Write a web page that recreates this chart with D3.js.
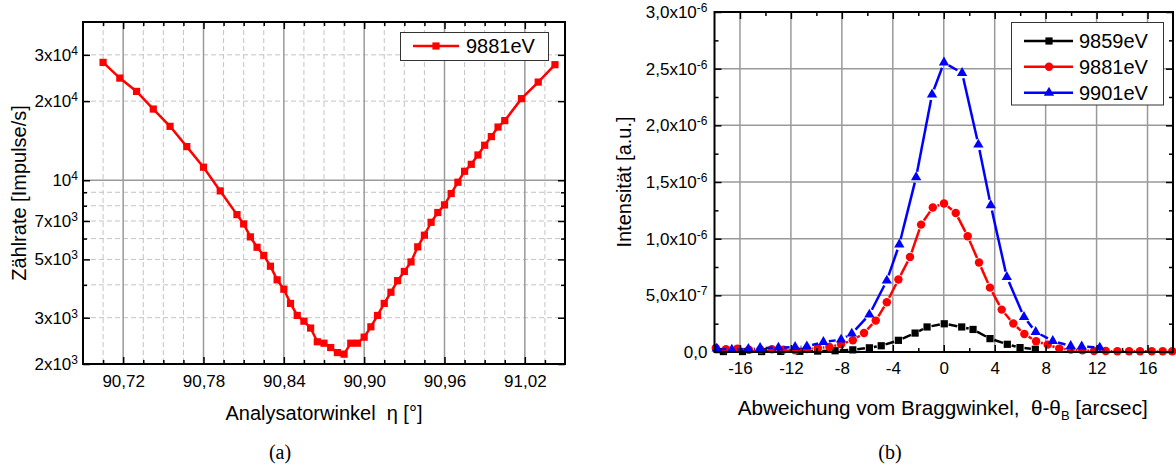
<!DOCTYPE html>
<html>
<head>
<meta charset="utf-8">
<script src="https://cdn.jsdelivr.net/npm/d3@7"></script>
<style>
  html, body { margin: 0; padding: 0; background: #fff; }
  svg { display: block; }
  text { font-family: "Liberation Sans", Arial, Helvetica, sans-serif; fill: #000; }
</style>
</head>
<body>
<svg id="fig" width="1176" height="472"></svg>
<script>
// ---------- panel (a): count rate vs. analyser angle at 9881 eV ----------
const angleA = [90.705, 90.7175, 90.730, 90.7425, 90.755, 90.7675, 90.780, 90.7925,
  90.805, 90.810, 90.815, 90.820, 90.825, 90.830, 90.835, 90.840, 90.845, 90.850,
  90.855, 90.860, 90.865, 90.870, 90.875, 90.880, 90.885, 90.890, 90.895, 90.900,
  90.905, 90.910, 90.915, 90.920, 90.925, 90.930, 90.935, 90.940, 90.945, 90.950,
  90.955, 90.960, 90.965, 90.970, 90.975, 90.980, 90.985, 90.990, 90.995, 91.000,
  91.005, 91.0175, 91.030, 91.0425];
const rateA = [28080, 24470, 21780, 18660, 16040, 13430, 11210, 9110,
  7400, 6820, 6090, 5560, 5180, 4710, 4180, 3850, 3400, 3060,
  2910, 2740, 2430, 2400, 2310, 2210, 2180, 2400, 2400, 2530,
  2770, 3060, 3400, 3750, 4150, 4500, 4890, 5580, 6180, 6920,
  7540, 8060, 8900, 9830, 10820, 11500, 12480, 13590, 14660, 15940,
  16860, 20440, 23630, 27520];
const xTicksA = [90.72, 90.78, 90.84, 90.90, 90.96, 91.02];
const xTickLabelsA = ["90,72", "90,78", "90,84", "90,90", "90,96", "91,02"];
const yTicksA = [2000, 3000, 5000, 7000, 10000, 20000, 30000];
const yTickMantA = ["2x10", "3x10", "5x10", "7x10", "10", "2x10", "3x10"];
const yTickExpA = ["3", "3", "3", "3", "4", "4", "4"];
const yMinorTicksA = [4000, 6000, 8000, 9000];
const yDashedGridA = [3000, 4000, 5000, 6000, 7000, 8000, 9000, 20000, 30000];
const seriesNameA = "9881eV";

// ---------- panel (b): rocking curves vs. deviation from Bragg angle ----------
const dev9859 = [-17.3, -15.8, -14.3, -12.8, -11.3, -9.9, -8.53, -7.14, -5.84, -4.91,
  -3.56, -2.25, -1.31, 0.04, 1.41, 2.30, 3.63, 4.99, 5.99, 7.19];
const int9859 = [4e-9, 4e-9, 4e-9, 5e-9, 6e-9, 8e-9, 1.1e-8, 1.9e-8, 3.7e-8, 5.5e-8,
  1.03e-7, 1.67e-7, 2.21e-7, 2.49e-7, 2.21e-7, 1.99e-7, 1.18e-7, 6.8e-8, 3.9e-8, 2.4e-8];

const dev9881 = [-17.9, -17.1, -16.2, -15.3, -14.4, -13.5, -12.59, -11.67, -10.75, -9.89,
  -8.98, -8.06, -7.14, -6.26, -5.34, -4.47, -3.56, -2.65, -1.78, -0.86,
  0.02, 0.94, 1.88, 2.77, 3.63, 4.55, 5.46, 6.33, 7.25, 8.16,
  9.07, 9.97, 10.88, 11.80, 12.72, 13.63, 14.55, 15.41, 16.33, 17.19, 17.94];
const int9881 = [3.5e-8, 2.5e-8, 3.0e-8, 2.0e-8, 2.0e-8, 2.5e-8, 2.1e-8, 1.5e-8, 2.6e-8, 3.5e-8,
  4.4e-8, 6.8e-8, 1.03e-7, 1.68e-7, 2.77e-7, 4.39e-7, 6.39e-7, 8.38e-7, 1.124e-6, 1.275e-6,
  1.311e-6, 1.227e-6, 1.021e-6, 7.89e-7, 5.68e-7, 3.74e-7, 2.51e-7, 1.59e-7, 9.4e-8, 6.5e-8,
  3.0e-8, 2.1e-8, 1.5e-8, 9e-9, 9e-9, 6e-9, 6e-9, 6e-9, 6e-9, 6e-9, 6e-9];

const dev9901 = [-17.82, -16.64, -15.34, -14.42, -12.98, -11.67, -10.75, -9.45, -8.06, -7.22,
  -5.84, -4.47, -3.49, -2.17, -0.92, 0.02, 1.44, 2.72, 3.69, 4.95,
  6.30, 7.22, 8.56, 9.97, 10.83, 12.25];
const int9901 = [3.0e-8, 2.1e-8, 2.6e-8, 3.5e-8, 3.9e-8, 4.4e-8, 5.0e-8, 8.8e-8, 1.09e-7, 1.62e-7,
  3.30e-7, 6.30e-7, 9.48e-7, 1.542e-6, 2.272e-6, 2.554e-6, 2.462e-6, 1.830e-6, 1.295e-6, 6.62e-7,
  3.09e-7, 1.77e-7, 9.7e-8, 5.3e-8, 4.8e-8, 3.9e-8];

const seriesNamesB = ["9859eV", "9881eV", "9901eV"];
const xTicksB = [-16, -12, -8, -4, 0, 4, 8, 12, 16];
const xTickLabelsB = ["-16", "-12", "-8", "-4", "0", "4", "8", "12", "16"];
const yTicksB = [0, 5e-7, 1e-6, 1.5e-6, 2e-6, 2.5e-6, 3e-6];
const yTickMantB = ["0,0", "5,0x10", "1,0x10", "1,5x10", "2,0x10", "2,5x10", "3,0x10"];
const yTickExpB = ["", "-7", "-6", "-6", "-6", "-6", "-6"];

// ---------- shared helpers ----------
const svg = d3.select("#fig");
const TICK_MAJOR = 7, TICK_MINOR = 4;

function styleAxis(sel, fontSize) {
  sel.select(".domain").remove();
  sel.selectAll(".tick line").attr("stroke", "#000").attr("stroke-width", 1.5);
  sel.selectAll(".tick text")
    .attr("font-size", fontSize)
    .attr("font-family", '"Liberation Sans", Arial, sans-serif')
    .attr("fill", "#000");
}

// draws all four sides of ticks, inward facing
function drawTicks(g, box, x, y, xMaj, xMin, yMaj, yMin, xFmt, yPad, xPad) {
  const makers = [
    () => d3.axisBottom(x), () => d3.axisTop(x), () => d3.axisLeft(y), () => d3.axisRight(y)
  ];
  const transforms = [
    `translate(0,${box.bottom})`, `translate(0,${box.top})`,
    `translate(${box.left},0)`, `translate(${box.right},0)`
  ];
  const out = {};
  makers.forEach((make, k) => {
    const horizontal = k < 2;
    const labelled = k === 0 || k === 2;
    const gMin = g.append("g").attr("transform", transforms[k])
      .call(make().tickValues(horizontal ? xMin : yMin).tickFormat("")
        .tickSizeInner(-TICK_MINOR).tickSizeOuter(0));
    styleAxis(gMin, 17);
    const gMaj = g.append("g").attr("transform", transforms[k])
      .call(make().tickValues(horizontal ? xMaj : yMaj)
        .tickSizeInner(-TICK_MAJOR).tickSizeOuter(0)
        .tickPadding(horizontal ? xPad : yPad)
        .tickFormat(labelled ? (horizontal ? xFmt : () => "") : ""));
    styleAxis(gMaj, 17);
    if (k === 0) out.bottom = gMaj;
    if (k === 2) out.left = gMaj;
  });
  return out;
}

function powerLabels(axisG, mant, exp) {
  axisG.selectAll(".tick text").each(function (d, i) {
    const t = d3.select(this);
    t.text(null);
    t.append("tspan").text(mant[i]);
    if (exp[i]) t.append("tspan").attr("dy", -6).attr("font-size", 12).text(exp[i]);
  });
}

// ================= panel (a) =================
const A = { left: 83, right: 565, top: 22, bottom: 364 };
const xA = d3.scaleLinear().domain([90.69, 91.05]).range([A.left, A.right]);
const yA = d3.scaleLog().domain([2000, 40000]).range([A.bottom, A.top]);
const xMinorA = d3.range(1, 24).filter(i => i % 4 !== 2).map(i => 90.69 + i * 0.015);

const gA = svg.append("g");
// grid: dashed minor lines, solid major lines
gA.append("g").selectAll("line").data(xMinorA).join("line")
  .attr("x1", d => xA(d)).attr("x2", d => xA(d)).attr("y1", A.top).attr("y2", A.bottom)
  .attr("stroke", "#c4c4c4").attr("stroke-width", 1).attr("stroke-dasharray", "5,3");
gA.append("g").selectAll("line").data(yDashedGridA).join("line")
  .attr("x1", A.left).attr("x2", A.right).attr("y1", d => yA(d)).attr("y2", d => yA(d))
  .attr("stroke", "#c4c4c4").attr("stroke-width", 1).attr("stroke-dasharray", "5,3");
gA.append("g").selectAll("line").data(xTicksA).join("line")
  .attr("x1", d => xA(d)).attr("x2", d => xA(d)).attr("y1", A.top).attr("y2", A.bottom)
  .attr("stroke", "#9a9a9a").attr("stroke-width", 1.5);
gA.append("line")
  .attr("x1", A.left).attr("x2", A.right).attr("y1", yA(10000)).attr("y2", yA(10000))
  .attr("stroke", "#9a9a9a").attr("stroke-width", 1.5);

// series
const ptsA = angleA.map((a, i) => [a, rateA[i]]);
gA.append("path").datum(ptsA)
  .attr("d", d3.line().x(d => xA(d[0])).y(d => yA(d[1])))
  .attr("fill", "none").attr("stroke", "#ff0000").attr("stroke-width", 2.5);
gA.append("g").selectAll("path").data(ptsA).join("path")
  .attr("transform", d => `translate(${xA(d[0])},${yA(d[1])})`)
  .attr("d", d3.symbol(d3.symbolSquare, 52))
  .attr("fill", "#ff0000");

// frame and ticks
gA.append("rect").attr("x", A.left).attr("y", A.top)
  .attr("width", A.right - A.left).attr("height", A.bottom - A.top)
  .attr("fill", "none").attr("stroke", "#000").attr("stroke-width", 2);
const axA = drawTicks(gA, A, xA, yA, xTicksA, xMinorA, yTicksA, yMinorTicksA,
  (d, i) => xTickLabelsA[i], 5, 11);
axA.left.selectAll(".tick text").attr("dy", "0.32em");
powerLabels(axA.left, yTickMantA, yTickExpA);

// legend
const legA = gA.append("g");
legA.append("rect").attr("x", 400.5).attr("y", 32.5).attr("width", 148).attr("height", 28)
  .attr("fill", "#fff").attr("stroke", "#333").attr("stroke-width", 1);
legA.append("line").attr("x1", 413).attr("x2", 459).attr("y1", 46).attr("y2", 46)
  .attr("stroke", "#ff0000").attr("stroke-width", 2.5);
legA.append("path").attr("transform", "translate(436,46)")
  .attr("d", d3.symbol(d3.symbolSquare, 52)).attr("fill", "#ff0000");
legA.append("text").attr("x", 466).attr("y", 53).attr("font-size", 20).text(seriesNameA);

// axis titles
gA.append("text").attr("x", (A.left + A.right) / 2).attr("y", 420)
  .attr("text-anchor", "middle").attr("font-size", 20).style("white-space", "pre")
  .text("Analysatorwinkel  \u03b7 [\u00b0]");
gA.append("text").attr("transform", `translate(26,${(A.top + A.bottom) / 2}) rotate(-90)`)
  .attr("text-anchor", "middle").attr("font-size", 20).text("Zählrate [Impulse/s]");
gA.append("text").attr("x", 280).attr("y", 459).attr("text-anchor", "middle")
  .attr("font-size", 20).style("font-family", '"Liberation Serif", "Times New Roman", serif')
  .text("(a)");

// ================= panel (b) =================
const B = { left: 714.5, right: 1173, top: 12, bottom: 352 };
const xB = d3.scaleLinear().domain([-18, 18]).range([B.left, B.right]);
const yB = d3.scaleLinear().domain([0, 3e-6]).range([B.bottom, B.top]);
const xMinorB = d3.range(-18, 19, 2).filter(v => v % 4 !== 0 && v > -18 && v < 18);
const yMinorB = d3.range(1, 12, 2).map(k => k * 2.5e-7);

const gB = svg.append("g");
gB.append("g").selectAll("line").data(xTicksB).join("line")
  .attr("x1", d => xB(d)).attr("x2", d => xB(d)).attr("y1", B.top).attr("y2", B.bottom)
  .attr("stroke", "#9a9a9a").attr("stroke-width", 1.5);
gB.append("g").selectAll("line").data(yTicksB.filter(v => v > 0 && v < 3e-6)).join("line")
  .attr("x1", B.left).attr("x2", B.right).attr("y1", d => yB(d)).attr("y2", d => yB(d))
  .attr("stroke", "#9a9a9a").attr("stroke-width", 1.5);

const seriesB = [
  { name: seriesNamesB[0], dev: dev9859, val: int9859, color: "#000000", sym: d3.symbolSquare, size: 52, gap: 4.5 },
  { name: seriesNamesB[1], dev: dev9881, val: int9881, color: "#ff0000", sym: d3.symbolCircle, size: 56, gap: 5 },
  { name: seriesNamesB[2], dev: dev9901, val: int9901, color: "#0000ff", sym: d3.symbolTriangle, size: 46, gap: 5.5 }
];

// connecting lines stop short of each symbol
seriesB.forEach(s => {
  const pts = s.dev.map((d, i) => [xB(d), yB(s.val[i])]);
  const segs = [];
  for (let i = 0; i < pts.length - 1; i++) {
    const [x1, y1] = pts[i], [x2, y2] = pts[i + 1];
    const L = Math.hypot(x2 - x1, y2 - y1);
    if (L <= 2 * s.gap) continue;
    const ux = (x2 - x1) / L, uy = (y2 - y1) / L;
    segs.push([x1 + ux * s.gap, y1 + uy * s.gap, x2 - ux * s.gap, y2 - uy * s.gap]);
  }
  const g = gB.append("g");
  g.selectAll("line").data(segs).join("line")
    .attr("x1", d => d[0]).attr("y1", d => d[1]).attr("x2", d => d[2]).attr("y2", d => d[3])
    .attr("stroke", s.color).attr("stroke-width", 2.5).attr("stroke-linecap", "butt");
  g.selectAll("path").data(pts).join("path")
    .attr("transform", d => `translate(${d[0]},${d[1]})`)
    .attr("d", d3.symbol(s.sym, s.size)).attr("fill", s.color);
});

gB.append("rect").attr("x", B.left).attr("y", B.top)
  .attr("width", B.right - B.left).attr("height", B.bottom - B.top)
  .attr("fill", "none").attr("stroke", "#000").attr("stroke-width", 2);
const axB = drawTicks(gB, B, xB, yB, xTicksB, xMinorB, yTicksB, yMinorB,
  (d, i) => xTickLabelsB[i], 7, 10);
axB.left.selectAll(".tick text").attr("dy", "0.32em");
powerLabels(axB.left, yTickMantB, yTickExpB);

// legend
const legB = gB.append("g");
legB.append("rect").attr("x", 1011.5).attr("y", 22.5).attr("width", 152).attr("height", 82.5)
  .attr("fill", "#fff").attr("stroke", "#333").attr("stroke-width", 1);
const legRows = [41, 66.7, 92.7];
seriesB.forEach((s, i) => {
  const cy = legRows[i];
  legB.append("line").attr("x1", 1024).attr("x2", 1073).attr("y1", cy).attr("y2", cy)
    .attr("stroke", s.color).attr("stroke-width", 2.5);
  legB.append("path").attr("transform", `translate(1049,${cy})`)
    .attr("d", d3.symbol(s.sym, s.size)).attr("fill", s.color);
  legB.append("text").attr("x", 1079).attr("y", cy + 7).attr("font-size", 20).text(s.name);
});

// axis titles
const tB = gB.append("text").attr("x", (B.left + B.right) / 2 - 1).attr("y", 415)
  .attr("text-anchor", "middle").attr("font-size", 20.7).style("white-space", "pre");
tB.append("tspan").text("Abweichung vom Braggwinkel,  \u03b8-\u03b8");
tB.append("tspan").attr("dy", 5).attr("font-size", 13).text("B");
tB.append("tspan").attr("dy", -5).text(" [arcsec]");
gB.append("text").attr("transform", `translate(631,${(B.top + B.bottom) / 2}) rotate(-90)`)
  .attr("text-anchor", "middle").attr("font-size", 20).text("Intensität [a.u.]");
gB.append("text").attr("x", 890).attr("y", 459).attr("text-anchor", "middle")
  .attr("font-size", 20).style("font-family", '"Liberation Serif", "Times New Roman", serif')
  .text("(b)");
</script>
</body>
</html>
